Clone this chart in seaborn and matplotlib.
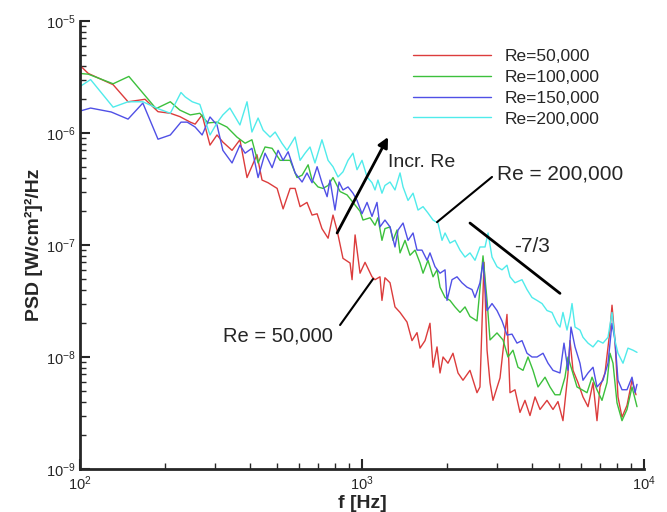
import numpy as np
import pandas as pd
import seaborn as sns
from matplotlib import pyplot as plt

sns.set_style("ticks")
plt.rcParams['font.family'] = ['Liberation Sans', 'DejaVu Sans']
plt.rcParams['mathtext.fontset'] = 'custom'
plt.rcParams['mathtext.rm'] = 'Liberation Sans'
plt.rcParams['mathtext.it'] = 'Liberation Sans:italic'
plt.rcParams['mathtext.bf'] = 'Liberation Sans:bold'

# PSD spectra, one (f, psd) pair of lists per Reynolds number
f_re50 = [100, 107, 131, 148, 170, 189, 209, 226, 246, 256, 271, 289, 306, 321, 346, 369, 391, 424, 442, 464,
          500, 525, 556, 579, 603, 638, 665, 693, 721, 758, 789, 816, 856, 907, 922, 945, 984, 1025, 1085, 1112,
          1158, 1177, 1206, 1257, 1309, 1364, 1444, 1504, 1567, 1606, 1673, 1742, 1786, 1845, 1891, 1938, 2018,
          2102, 2190, 2281, 2415, 2557, 2620, 2708, 2776, 2844, 2914, 3086, 3267, 3348, 3487, 3633, 3784, 3942,
          4107, 4279, 4529, 4757, 4954, 5160, 5377, 5466, 5601, 5835, 6077, 6331, 6596, 6813, 6982, 7273, 7576,
          7702, 7892, 8087, 8356, 8704, 9068, 9368]
psd_re50 = [4.0e-6, 3.4e-6, 2.7e-6, 1.9e-6, 2.0e-6, 1.55e-6, 1.5e-6, 1.4e-6, 1.25e-6, 1.2e-6,
            1.45e-6, 7.8e-7, 9.6e-7, 8.3e-7, 7.0e-7, 8.7e-7, 4.0e-7, 6.4e-7, 3.8e-7, 3.6e-7,
            3.2e-7, 2.1e-7, 3.2e-7, 3.2e-7, 2.2e-7, 2.4e-7, 1.85e-7, 1.9e-7, 1.4e-7, 1.15e-7,
            1.85e-7, 1.35e-7, 7.6e-8, 6.9e-8, 4.9e-8, 1.23e-7, 5.6e-8, 7.0e-8, 5.2e-8, 4.9e-8,
            5.2e-8, 3.2e-8, 5.1e-8, 4.6e-8, 2.8e-8, 2.5e-8, 2.05e-8, 1.4e-8, 1.65e-8, 1.2e-8,
            1.4e-8, 2.0e-8, 8.1e-9, 1.23e-8, 7.2e-9, 1.0e-8, 8.8e-9, 1.08e-8, 7.2e-9, 6.2e-9,
            7.6e-9, 4.8e-9, 5.4e-9, 7.0e-8, 1.15e-8, 5.9e-9, 4.1e-9, 6.5e-9, 2.4e-8, 4.8e-9,
            5.1e-9, 3.2e-9, 4.1e-9, 3.0e-9, 4.4e-9, 3.4e-9, 4.1e-9, 3.4e-9, 4.0e-9, 2.7e-9,
            7.2e-9, 1.4e-8, 7.6e-9, 5.9e-9, 4.4e-9, 3.6e-9, 5.9e-9, 2.7e-9, 5.4e-9, 7.2e-9,
            1.74e-8, 2.9e-8, 1.4e-8, 4.4e-9, 2.9e-9, 3.7e-9, 6.2e-9, 4.6e-9]

f_re100 = [100, 107, 131, 149, 186, 209, 226, 246, 266, 284, 306, 332, 360, 385, 407, 428, 453, 480, 512, 556,
           588, 613, 644, 665, 698, 727, 758, 789, 836, 885, 929, 984, 1008, 1068, 1112, 1139, 1177, 1206, 1257,
           1288, 1331, 1364, 1421, 1480, 1542, 1606, 1646, 1714, 1786, 1845, 1891, 1970, 2051, 2137, 2226, 2319,
           2415, 2557, 2686, 2776, 2844, 3011, 3162, 3294, 3431, 3574, 3724, 3879, 4040, 4209, 4457, 4642, 4835,
           5036, 5246, 5377, 5556, 5787, 6028, 6280, 6542, 6813, 7097, 7393, 7576, 7764, 8022, 8356, 8704, 9068,
           9445]
psd_re100 = [3.4e-6, 3.35e-6, 2.75e-6, 3.2e-6, 1.65e-6, 1.9e-6, 1.6e-6, 1.45e-6, 1.5e-6, 1.23e-6,
             1.25e-6, 1.13e-6, 9.2e-7, 8.1e-7, 8.7e-7, 5.4e-7, 7.5e-7, 7.3e-7, 5.7e-7, 5.7e-7,
             4.0e-7, 4.2e-7, 5.2e-7, 3.8e-7, 3.3e-7, 3.2e-7, 3.4e-7, 4.0e-7, 3.0e-7, 2.8e-7,
             2.4e-7, 2.0e-7, 1.67e-7, 1.75e-7, 1.5e-7, 1.75e-7, 1.1e-7, 1.4e-7, 1.45e-7, 1.1e-7,
             1.36e-7, 8.5e-8, 1.1e-7, 8.1e-8, 9.0e-8, 6.9e-8, 5.6e-8, 7.3e-8, 5.2e-8, 6.0e-8,
             4.2e-8, 3.4e-8, 3.2e-8, 2.8e-8, 2.5e-8, 2.8e-8, 2.3e-8, 2.1e-8, 8.0e-8, 3.2e-8,
             1.42e-8, 1.64e-8, 1.42e-8, 1.0e-8, 1.15e-8, 8.1e-9, 7.6e-9, 1.0e-8, 7.6e-9, 5.4e-9,
             6.6e-9, 5.4e-9, 4.6e-9, 4.6e-9, 6.6e-9, 1.0e-8, 7.6e-9, 5.4e-9, 5.1e-9, 4.8e-9,
             6.6e-9, 5.1e-9, 4.1e-9, 5.9e-9, 1.08e-8, 8.8e-9, 3.9e-9, 2.7e-9, 3.4e-9, 5.4e-9,
             3.6e-9]

f_re150 = [100, 109, 129, 148, 167, 189, 209, 228, 240, 256, 271, 289, 306, 321, 346, 369, 385, 407, 428, 453,
           480, 504, 525, 547, 579, 613, 638, 665, 693, 721, 752, 770, 802, 829, 856, 892, 929, 960, 1000, 1042,
           1085, 1130, 1158, 1206, 1257, 1309, 1342, 1398, 1456, 1517, 1567, 1632, 1701, 1742, 1815, 1891, 1970,
           2002, 2085, 2172, 2262, 2357, 2455, 2516, 2620, 2686, 2776, 2891, 3011, 3137, 3267, 3403, 3545, 3693,
           3847, 4007, 4175, 4385, 4567, 4757, 5036, 5203, 5377, 5510, 5694, 5929, 6077, 6331, 6596, 6813, 7155,
           7453, 7702, 7892, 8087, 8356, 8704, 9068, 9292, 9445]
psd_re150 = [1.57e-6, 1.67e-6, 1.54e-6, 1.33e-6, 1.85e-6, 8.8e-7, 9.6e-7, 1.25e-6, 1.25e-6, 1.13e-6,
             9.6e-7, 1.39e-6, 1.18e-6, 7.0e-7, 5.4e-7, 7.8e-7, 6.6e-7, 7.3e-7, 4.0e-7, 6.6e-7,
             4.9e-7, 7.0e-7, 5.7e-7, 6.8e-7, 4.4e-7, 3.65e-7, 4.4e-7, 3.6e-7, 5.0e-7, 3.6e-7,
             2.7e-7, 3.8e-7, 2.05e-7, 3.65e-7, 3.1e-7, 3.3e-7, 2.9e-7, 2.5e-7, 1.9e-7, 2.4e-7,
             1.8e-7, 2.4e-7, 1.45e-7, 1.67e-7, 1.45e-7, 9.6e-8, 1.36e-7, 1.57e-7, 1.1e-7, 1.28e-7,
             9.0e-8, 9.0e-8, 7.3e-8, 8.5e-8, 6.4e-8, 5.6e-8, 6.0e-8, 3.2e-8, 4.9e-8, 5.2e-8,
             4.6e-8, 4.2e-8, 4.0e-8, 3.4e-8, 4.6e-8, 7.0e-8, 2.6e-8, 3.0e-8, 2.6e-8, 2.1e-8,
             1.57e-8, 1.6e-8, 1.33e-8, 1.4e-8, 1.08e-8, 1.0e-8, 1.0e-8, 1.08e-8, 8.8e-9, 7.6e-9,
             7.2e-9, 1.33e-8, 7.6e-9, 1.85e-8, 1.23e-8, 8.8e-9, 6.2e-9, 7.2e-9, 8.1e-9, 5.4e-9,
             6.2e-9, 8.8e-9, 2.0e-8, 1.4e-8, 6.2e-9, 5.1e-9, 5.1e-9, 6.6e-9, 4.8e-9, 5.7e-9]

f_re200 = [100, 109, 131, 148, 167, 189, 209, 228, 236, 250, 266, 289, 306, 321, 340, 369, 391, 407, 428, 446,
           472, 492, 520, 542, 579, 603, 628, 654, 681, 721, 758, 789, 822, 856, 892, 929, 960, 1000, 1042, 1085,
           1112, 1139, 1177, 1206, 1257, 1309, 1364, 1398, 1456, 1517, 1580, 1646, 1714, 1786, 1860, 1922, 1970,
           2051, 2137, 2226, 2319, 2415, 2516, 2620, 2731, 2799, 2891, 3011, 3137, 3267, 3348, 3487, 3693, 3847,
           4007, 4175, 4349, 4529, 4718, 4914, 5036, 5160, 5333, 5466, 5556, 5694, 5929, 6077, 6331, 6596, 6869,
           7155, 7453, 7702, 7892, 8087, 8425, 8775, 9142, 9445]
psd_re200 = [2.6e-6, 3.0e-6, 1.7e-6, 1.9e-6, 1.9e-6, 1.65e-6, 1.5e-6, 2.3e-6, 2.1e-6, 1.9e-6,
             1.8e-6, 9.6e-7, 1.23e-6, 1.45e-6, 1.67e-6, 1.18e-6, 1.9e-6, 1.02e-6, 1.36e-6, 1.06e-6,
             9.2e-7, 1.02e-6, 8.1e-7, 7.0e-7, 9.2e-7, 5.7e-7, 6.6e-7, 7.5e-7, 5.4e-7, 8.7e-7,
             5.7e-7, 5.0e-7, 4.05e-7, 4.5e-7, 5.7e-7, 6.6e-7, 4.7e-7, 5.7e-7, 4.05e-7, 3.6e-7,
             3.1e-7, 3.8e-7, 2.9e-7, 3.4e-7, 3.65e-7, 3.1e-7, 4.4e-7, 3.3e-7, 2.5e-7, 2.9e-7,
             2.05e-7, 2.2e-7, 1.93e-7, 1.67e-7, 1.57e-7, 1.1e-7, 1.28e-7, 1.04e-7, 1.1e-7, 9.0e-8,
             7.8e-8, 8.5e-8, 7.3e-8, 9.6e-8, 9.6e-8, 1.28e-7, 7.8e-8, 6.4e-8, 6.0e-8, 6.6e-8,
             5.2e-8, 4.6e-8, 4.9e-8, 4.0e-8, 3.4e-8, 3.2e-8, 3.0e-8, 2.6e-8, 2.5e-8, 2.0e-8,
             1.85e-8, 2.5e-8, 1.74e-8, 2.3e-8, 3.0e-8, 1.85e-8, 1.74e-8, 1.5e-8, 1.33e-8, 1.23e-8,
             1.4e-8, 1.33e-8, 1.5e-8, 2.5e-8, 1.4e-8, 1.08e-8, 8.8e-9, 1.2e-8, 1.15e-8, 1.1e-8]

labels = ["Re=50,000", "Re=100,000", "Re=150,000", "Re=200,000"]
colors = ["#dc3c3c", "#3cc03c", "#5050e6", "#50ebeb"]


def build_table():
    frames = []
    for label, f, psd in zip(labels,
                             [f_re50, f_re100, f_re150, f_re200],
                             [psd_re50, psd_re100, psd_re150, psd_re200]):
        frames.append(pd.DataFrame({"f": f, "PSD": psd, "Re": label}))
    return pd.concat(frames, ignore_index=True)


table = build_table()

fig, ax = plt.subplots(figsize=(6.67, 5.12), dpi=100)
fig.subplots_adjust(left=0.12, right=0.9655, bottom=0.084, top=0.959)

sns.lineplot(data=table, x="f", y="PSD", hue="Re", hue_order=labels,
             palette=dict(zip(labels, colors)), linewidth=1.0,
             estimator=None, sort=False, ax=ax)

ax.set_xscale("log")
ax.set_yscale("log")
ax.set_xlim(100, 1e4)
ax.set_ylim(1e-9, 1e-5)

sns.despine(ax=ax)
for side in ["left", "bottom"]:
    ax.spines[side].set_linewidth(2)
ax.tick_params(which="major", direction="in", length=7, width=1.5, labelsize=10.5)
ax.tick_params(which="minor", direction="in", length=4.3, width=1)
ax.tick_params(axis="x", which="major", pad=4)
ax.tick_params(axis="y", which="major", pad=3)

ax.set_xlabel("f [Hz]", fontsize=14, fontweight="bold", labelpad=1)
ax.set_ylabel("PSD [W/cm²]²/Hz", fontsize=14, fontweight="bold", labelpad=2)

handles, _ = ax.get_legend_handles_labels()
ax.legend(handles, labels, loc="upper left", bbox_to_anchor=(0.59, 0.938), frameon=False,
          fontsize=12.5, handlelength=4.5, handletextpad=0.8, labelspacing=0.33,
          borderpad=0, borderaxespad=0)

# annotations
ax.annotate("", xy=(1237, 9.2e-7), xytext=(816, 1.28e-7),
            arrowprops=dict(arrowstyle="-|>", color="black", lw=2, mutation_scale=15,
                            shrinkA=0, shrinkB=0))
ax.text(1237, 5.5e-7, "Incr. Re", fontsize=14, ha="left", va="center")

ax.plot([1845, 2891], [1.6e-7, 4.05e-7], color="black", lw=1.5)
ax.text(3011, 4.3e-7, "Re = 200,000", fontsize=15, ha="left", va="center")

ax.plot([2415, 5036], [1.57e-7, 3.7e-8], color="black", lw=2)
ax.text(3460, 9.6e-8, "-7/3", fontsize=15, ha="left", va="center")

ax.plot([836, 1094], [1.93e-8, 4.97e-8], color="black", lw=1.5)
ax.text(321, 1.54e-8, "Re = 50,000", fontsize=14.5, ha="left", va="center")

fig.savefig("out.png", dpi=100)
